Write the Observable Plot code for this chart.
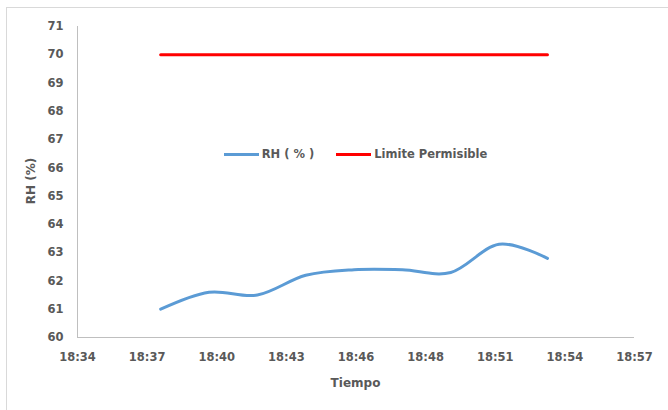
<!DOCTYPE html>
<html><head><meta charset="utf-8">
<script src="https://cdn.jsdelivr.net/npm/d3@7"></script>
<script src="https://cdn.jsdelivr.net/npm/@observablehq/plot@0.6"></script>
<style>
body{margin:0;background:#fff;font-family:"DejaVu Sans",sans-serif;}
#wrap{position:relative;width:668px;height:410px;overflow:hidden;background:#fff;}
#frame{position:absolute;left:6px;top:7px;width:720px;height:520px;border:1px solid #d9d9d9;box-sizing:border-box;}
#chart{position:absolute;left:0;top:0;}
#chart svg text{font-weight:bold;}
#legend{position:absolute;top:147px;left:77px;width:557px;display:flex;justify-content:center;align-items:center;font-size:11.5px;font-weight:bold;color:#595959;}
.item{display:flex;align-items:center;margin:0 11px;}
.sw{width:35px;height:3px;margin-right:3px;}
#xtitle{position:absolute;left:77px;width:557px;top:376px;text-align:center;font-size:12px;font-weight:bold;color:#595959;}
#ytitle{position:absolute;left:31px;top:181px;transform:translate(-50%,-50%) rotate(-90deg);font-size:12px;font-weight:bold;color:#595959;white-space:nowrap;}
</style></head>
<body>
<div id="wrap">
<div id="frame"></div>
<div id="chart"></div>
<div id="legend"></div>
<div id="xtitle">Tiempo</div>
<div id="ytitle">RH (%)</div>
</div>
<script>
const times = ["18:38","18:40","18:42","18:44","18:46","18:48","18:50","18:52","18:54"];
const rh = [61.0, 61.6, 61.5, 62.2, 62.4, 62.4, 62.3, 63.3, 62.8];
const limite = [70, 70, 70, 70, 70, 70, 70, 70, 70];
const xTickValues = [0.774, 0.776, 0.778, 0.780, 0.782, 0.784, 0.786, 0.788, 0.790];
const xTickLabels = ["18:34","18:37","18:40","18:43","18:46","18:48","18:51","18:54","18:57"];
const yTicks = [60,61,62,63,64,65,66,67,68,69,70,71];
const seriesNames = ["RH ( % )", "Limite Permisible"];
const seriesColors = ["#5b9bd5", "#ff0000"];

const toDay = s => { const [h, m] = s.split(":").map(Number); return (h * 60 + m) / 1440; };
const rhData = times.map((t, i) => ({x: toDay(t), y: rh[i]}));
const limData = times.map((t, i) => ({x: toDay(t), y: limite[i]}));

const chart = Plot.plot({
  width: 668, height: 410,
  marginLeft: 77, marginRight: 34, marginTop: 26, marginBottom: 73,
  style: {fontFamily: "DejaVu Sans, sans-serif", fontSize: "11.5px", color: "#595959", background: "transparent"},
  x: {domain: [xTickValues[0], xTickValues[xTickValues.length - 1]]},
  y: {domain: [yTicks[0], yTicks[yTicks.length - 1]]},
  marks: [
    Plot.axisX({ticks: xTickValues, tickFormat: (d, i) => xTickLabels[i], tickSize: 0, tickPadding: 15, label: null}),
    Plot.axisY({ticks: yTicks, tickFormat: d => d, tickSize: 0, tickPadding: 14, label: null}),
    Plot.ruleX([xTickValues[0]], {stroke: "#bfbfbf", strokeWidth: 1}),
    Plot.ruleY([yTicks[0]], {stroke: "#bfbfbf", strokeWidth: 1}),
    Plot.line(limData, {x: "x", y: "y", stroke: seriesColors[1], strokeWidth: 3}),
    Plot.line(rhData, {x: "x", y: "y", stroke: seriesColors[0], strokeWidth: 3, curve: "cardinal", strokeLinecap: "round"})
  ]
});
document.getElementById("chart").appendChild(chart);

const legend = document.getElementById("legend");
seriesNames.forEach((n, i) => {
  const it = document.createElement("div"); it.className = "item";
  const sw = document.createElement("div"); sw.className = "sw"; sw.style.background = seriesColors[i];
  const tx = document.createElement("span"); tx.textContent = n;
  it.appendChild(sw); it.appendChild(tx); legend.appendChild(it);
});
</script>
</body></html>
